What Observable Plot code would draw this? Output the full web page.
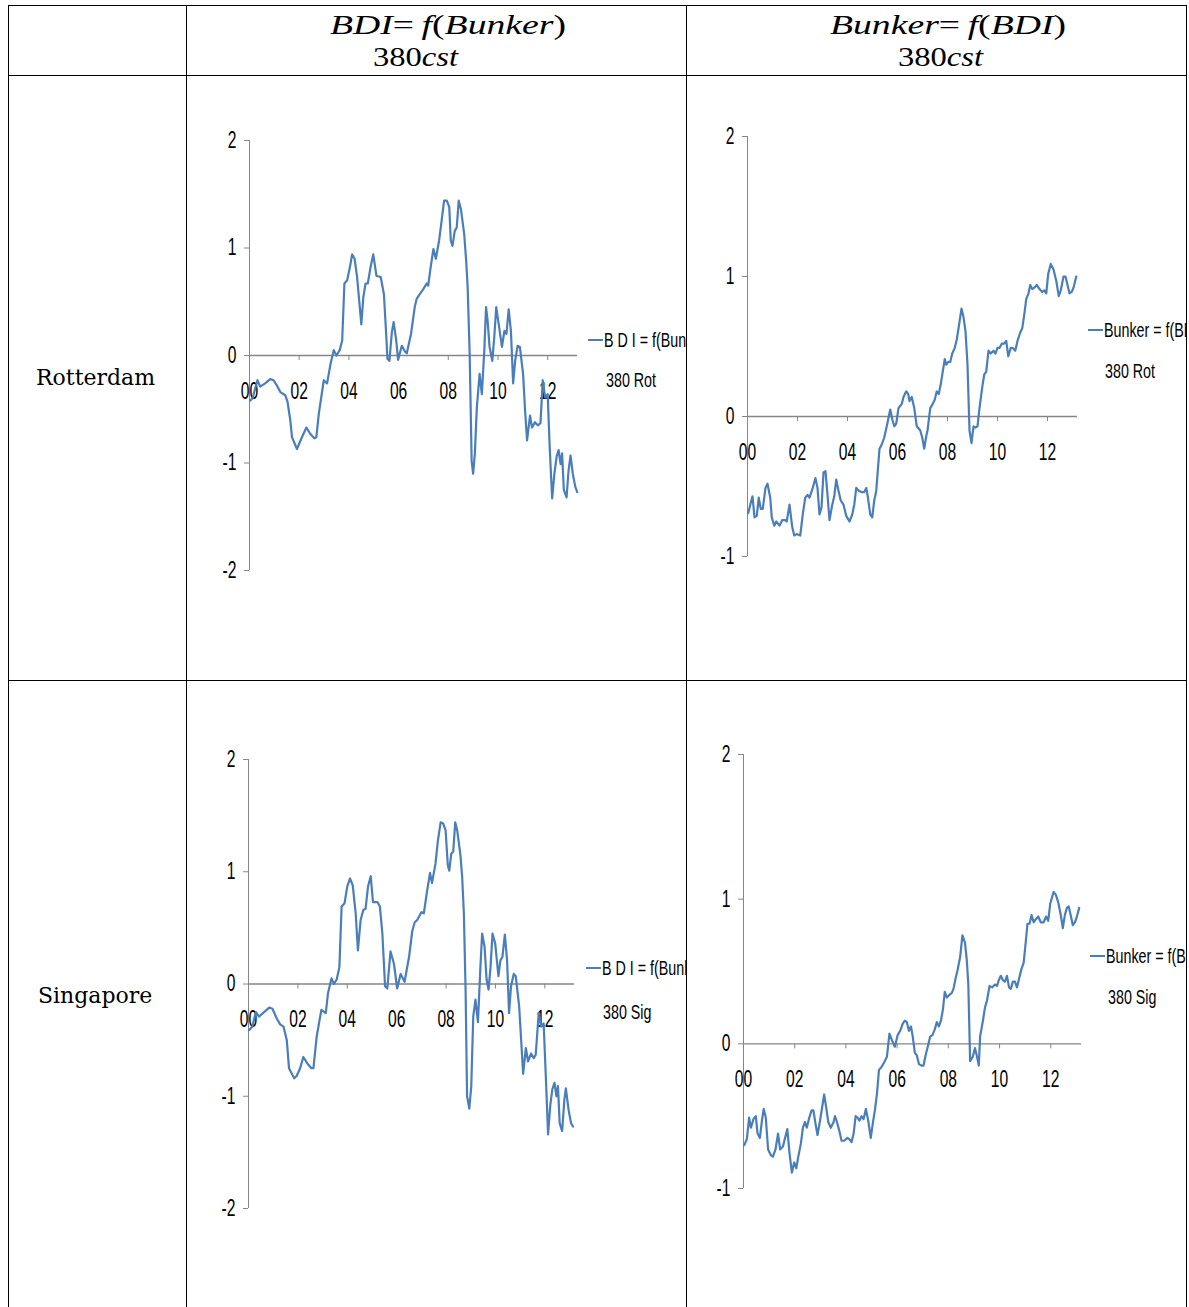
<!DOCTYPE html>
<html>
<head>
<meta charset="utf-8">
<script src="https://cdn.jsdelivr.net/npm/d3@7"></script>
<script src="https://cdn.jsdelivr.net/npm/@observablehq/plot@0.6"></script>
<style>
  html, body { margin: 0; padding: 0; background: #fff; }
  #page { position: relative; width: 1189px; height: 1307px; overflow: hidden; background: #fff; }
  .hl { position: absolute; background: #000; height: 1px; }
  .vl { position: absolute; background: #000; width: 1px; }
  .math { position: absolute; font-family: "Liberation Serif", "DejaVu Serif", serif; font-size: 28px; line-height: 28px; color: #000; white-space: nowrap; transform-origin: 0 0; }
  .math i { font-style: italic; }
  .rowlab { position: absolute; font-family: "DejaVu Serif", "Liberation Serif", serif; font-size: 22px; line-height: 22px; color: #000; white-space: nowrap; }
  .chart { position: absolute; }
  .clip { position: absolute; overflow: hidden; }
  .leg { position: absolute; font-family: "Liberation Sans", Arimo, sans-serif; font-size: 21px; line-height: 21px; color: #000; white-space: nowrap; transform: scaleX(0.68); transform-origin: 0 0; }
  .legline { position: absolute; height: 2px; background: #4A7EBB; }
</style>
</head>
<body>
<div id="page"></div>
<script>
// ---------------- data ----------------
const xTicks = [0, 2, 4, 6, 8, 10, 12];
const xTickLabels = ["00", "02", "04", "06", "08", "10", "12"];
const yTicksBdi = [-2, -1, 0, 1, 2];
const yTicksBunker = [-1, 0, 1, 2];
const columnTitles = ["BDI= f(Bunker)", "Bunker= f(BDI)"];
const rowTitles = ["Rotterdam", "Singapore"];
const seriesNames = ["B D I = f(Bunker)", "Bunker = f(BDI)"];
const portCodes = ["380 Rot", "380 Sig"];

// [years since Jan 2000, value]
const rotBdi = [[0.02,-0.42],[0.12,-0.40],[0.32,-0.23],[0.43,-0.29],[0.63,-0.26],[0.83,-0.22],[0.97,-0.23],[1.13,-0.29],[1.24,-0.34],[1.44,-0.37],[1.53,-0.43],[1.64,-0.60],[1.71,-0.76],[1.91,-0.87],[2.11,-0.76],[2.29,-0.67],[2.45,-0.73],[2.61,-0.77],[2.69,-0.76],[2.79,-0.54],[2.99,-0.23],[3.12,-0.26],[3.26,-0.08],[3.39,0.05],[3.50,0.0],[3.63,0.05],[3.73,0.14],[3.82,0.67],[3.93,0.70],[4.04,0.82],[4.13,0.94],[4.23,0.90],[4.33,0.73],[4.50,0.29],[4.58,0.54],[4.67,0.67],[4.76,0.67],[4.87,0.82],[4.98,0.94],[5.11,0.74],[5.28,0.73],[5.41,0.57],[5.50,0.20],[5.55,-0.03],[5.63,-0.05],[5.73,0.22],[5.80,0.31],[5.90,0.15],[5.98,-0.04],[6.13,0.09],[6.25,0.04],[6.33,0.02],[6.50,0.20],[6.65,0.45],[6.73,0.53],[6.82,0.56],[7.00,0.62],[7.13,0.67],[7.19,0.65],[7.29,0.82],[7.40,0.99],[7.50,0.90],[7.63,1.07],[7.73,1.25],[7.83,1.44],[7.94,1.44],[8.04,1.38],[8.10,1.07],[8.17,1.02],[8.26,1.16],[8.34,1.19],[8.42,1.44],[8.51,1.36],[8.64,1.13],[8.72,0.88],[8.78,0.63],[8.86,0.02],[8.94,-0.98],[9.00,-1.10],[9.07,-0.91],[9.15,-0.48],[9.26,-0.17],[9.35,-0.36],[9.45,0.05],[9.52,0.45],[9.58,0.33],[9.66,0.08],[9.77,-0.05],[9.85,0.17],[9.93,0.45],[10.03,0.29],[10.16,0.08],[10.26,0.23],[10.34,0.20],[10.43,0.43],[10.52,0.23],[10.61,-0.26],[10.69,-0.05],[10.79,0.09],[10.88,0.08],[11.01,-0.17],[11.09,-0.51],[11.17,-0.79],[11.29,-0.56],[11.37,-0.67],[11.49,-0.62],[11.60,-0.65],[11.71,-0.63],[11.80,-0.23],[11.90,-0.39],[12.00,-0.36],[12.08,-0.85],[12.18,-1.33],[12.27,-1.10],[12.36,-0.94],[12.44,-0.88],[12.52,-1.01],[12.58,-0.91],[12.65,-1.25],[12.76,-1.32],[12.84,-1.07],[12.92,-0.93],[13.01,-1.10],[13.11,-1.22],[13.19,-1.27]];

const sinBdi = [[0.03,-0.41],[0.15,-0.38],[0.30,-0.25],[0.43,-0.29],[0.63,-0.25],[0.84,-0.21],[0.97,-0.22],[1.15,-0.31],[1.28,-0.36],[1.42,-0.38],[1.55,-0.50],[1.64,-0.75],[1.85,-0.84],[1.95,-0.82],[2.09,-0.75],[2.22,-0.65],[2.39,-0.71],[2.55,-0.75],[2.63,-0.75],[2.76,-0.47],[2.95,-0.23],[3.13,-0.26],[3.22,-0.08],[3.36,0.05],[3.46,0.0],[3.57,0.04],[3.68,0.15],[3.77,0.69],[3.89,0.72],[4.00,0.87],[4.11,0.94],[4.22,0.88],[4.34,0.63],[4.43,0.30],[4.54,0.57],[4.65,0.66],[4.74,0.67],[4.84,0.87],[4.95,0.96],[5.04,0.73],[5.22,0.73],[5.32,0.69],[5.42,0.45],[5.53,-0.02],[5.62,-0.04],[5.75,0.29],[5.89,0.18],[6.02,-0.04],[6.16,0.09],[6.32,0.02],[6.50,0.24],[6.63,0.47],[6.73,0.55],[6.83,0.57],[7.00,0.64],[7.10,0.63],[7.24,0.84],[7.35,0.99],[7.43,0.90],[7.57,1.07],[7.67,1.28],[7.78,1.44],[7.88,1.43],[7.98,1.37],[8.07,1.06],[8.13,1.01],[8.21,1.16],[8.29,1.18],[8.37,1.44],[8.45,1.37],[8.58,1.15],[8.65,0.96],[8.72,0.63],[8.79,-0.05],[8.85,-1.00],[8.94,-1.11],[9.02,-0.91],[9.10,-0.29],[9.19,-0.14],[9.29,-0.34],[9.39,0.15],[9.46,0.45],[9.56,0.33],[9.64,0.04],[9.72,-0.05],[9.80,0.15],[9.88,0.45],[9.99,0.36],[10.12,0.07],[10.20,0.21],[10.28,0.24],[10.38,0.44],[10.47,0.21],[10.55,-0.26],[10.63,-0.02],[10.74,0.09],[10.82,0.07],[10.96,-0.20],[11.04,-0.50],[11.12,-0.80],[11.23,-0.57],[11.32,-0.69],[11.44,-0.62],[11.55,-0.66],[11.63,-0.63],[11.75,-0.26],[11.85,-0.38],[11.95,-0.35],[12.04,-0.83],[12.13,-1.34],[12.22,-1.08],[12.30,-0.94],[12.39,-0.88],[12.47,-1.00],[12.53,-0.91],[12.60,-1.24],[12.70,-1.31],[12.79,-1.03],[12.85,-0.93],[12.96,-1.12],[13.06,-1.24],[13.14,-1.27]];

const rotBunker = [[0.03,-0.69],[0.11,-0.63],[0.20,-0.57],[0.28,-0.72],[0.37,-0.71],[0.45,-0.58],[0.53,-0.66],[0.61,-0.66],[0.72,-0.51],[0.80,-0.48],[0.91,-0.58],[0.97,-0.72],[1.07,-0.78],[1.15,-0.75],[1.28,-0.78],[1.39,-0.74],[1.51,-0.74],[1.57,-0.75],[1.68,-0.63],[1.79,-0.79],[1.87,-0.85],[1.97,-0.84],[2.11,-0.85],[2.21,-0.70],[2.31,-0.58],[2.40,-0.56],[2.48,-0.58],[2.61,-0.51],[2.72,-0.44],[2.80,-0.51],[2.88,-0.70],[2.96,-0.65],[3.04,-0.40],[3.12,-0.39],[3.20,-0.56],[3.28,-0.74],[3.39,-0.63],[3.47,-0.57],[3.55,-0.45],[3.64,-0.53],[3.73,-0.60],[3.84,-0.63],[3.95,-0.71],[4.08,-0.75],[4.19,-0.70],[4.27,-0.63],[4.35,-0.51],[4.45,-0.53],[4.56,-0.54],[4.67,-0.54],[4.75,-0.51],[4.81,-0.57],[4.91,-0.70],[4.99,-0.72],[5.07,-0.60],[5.15,-0.53],[5.28,-0.23],[5.37,-0.20],[5.47,-0.15],[5.57,-0.07],[5.71,0.05],[5.79,-0.02],[5.87,-0.07],[5.95,-0.05],[6.04,0.06],[6.17,0.09],[6.24,0.14],[6.35,0.18],[6.43,0.16],[6.48,0.11],[6.57,0.14],[6.67,0.06],[6.77,-0.07],[6.91,-0.10],[6.99,-0.15],[7.07,-0.23],[7.15,-0.14],[7.20,-0.10],[7.31,0.06],[7.41,0.09],[7.49,0.12],[7.57,0.18],[7.65,0.16],[7.73,0.23],[7.81,0.32],[7.89,0.41],[7.95,0.37],[8.03,0.39],[8.11,0.39],[8.19,0.45],[8.29,0.49],[8.37,0.55],[8.45,0.64],[8.56,0.77],[8.64,0.71],[8.72,0.61],[8.80,0.37],[8.88,-0.10],[8.96,-0.19],[9.04,-0.07],[9.12,-0.08],[9.20,-0.07],[9.28,0.06],[9.39,0.21],[9.47,0.30],[9.55,0.32],[9.64,0.47],[9.73,0.45],[9.84,0.47],[9.92,0.45],[10.00,0.49],[10.08,0.49],[10.17,0.52],[10.27,0.52],[10.35,0.54],[10.43,0.43],[10.53,0.49],[10.61,0.49],[10.71,0.47],[10.80,0.54],[10.91,0.60],[10.99,0.63],[11.08,0.74],[11.15,0.84],[11.24,0.88],[11.31,0.94],[11.39,0.91],[11.47,0.92],[11.57,0.94],[11.68,0.91],[11.79,0.89],[11.87,0.90],[11.95,0.88],[12.03,1.02],[12.13,1.09],[12.24,1.05],[12.35,0.97],[12.45,0.86],[12.53,0.90],[12.64,1.00],[12.72,1.00],[12.80,0.94],[12.88,0.88],[12.97,0.89],[13.04,0.92],[13.15,1.00]];

const sinBunker = [[0.03,-0.70],[0.13,-0.66],[0.22,-0.51],[0.29,-0.58],[0.39,-0.52],[0.48,-0.50],[0.55,-0.62],[0.64,-0.65],[0.72,-0.53],[0.79,-0.45],[0.87,-0.51],[0.96,-0.73],[1.07,-0.77],[1.15,-0.78],[1.25,-0.73],[1.35,-0.62],[1.43,-0.73],[1.54,-0.71],[1.61,-0.66],[1.71,-0.59],[1.80,-0.76],[1.89,-0.89],[1.98,-0.82],[2.06,-0.86],[2.14,-0.78],[2.24,-0.69],[2.32,-0.58],[2.40,-0.54],[2.47,-0.58],[2.57,-0.51],[2.66,-0.46],[2.73,-0.46],[2.81,-0.55],[2.89,-0.63],[2.99,-0.53],[3.07,-0.44],[3.15,-0.35],[3.23,-0.44],[3.31,-0.54],[3.41,-0.58],[3.52,-0.54],[3.57,-0.50],[3.65,-0.54],[3.74,-0.60],[3.83,-0.67],[3.93,-0.67],[4.06,-0.65],[4.14,-0.66],[4.22,-0.68],[4.30,-0.62],[4.38,-0.50],[4.45,-0.51],[4.53,-0.53],[4.61,-0.50],[4.69,-0.52],[4.78,-0.45],[4.87,-0.53],[4.97,-0.65],[5.05,-0.55],[5.13,-0.46],[5.21,-0.35],[5.29,-0.18],[5.39,-0.16],[5.49,-0.13],[5.60,-0.09],[5.70,0.07],[5.81,0.02],[5.91,-0.02],[6.02,0.06],[6.12,0.09],[6.22,0.14],[6.30,0.16],[6.38,0.15],[6.46,0.09],[6.54,0.12],[6.61,0.05],[6.69,-0.06],[6.77,-0.08],[6.85,-0.14],[6.95,-0.15],[7.03,-0.15],[7.11,-0.08],[7.21,-0.01],[7.29,0.05],[7.38,0.06],[7.47,0.10],[7.55,0.15],[7.63,0.12],[7.71,0.16],[7.79,0.24],[7.86,0.36],[7.94,0.32],[8.05,0.34],[8.13,0.35],[8.20,0.38],[8.28,0.45],[8.36,0.51],[8.46,0.60],[8.55,0.75],[8.65,0.70],[8.72,0.58],[8.78,0.41],[8.85,-0.12],[8.95,-0.09],[9.04,-0.03],[9.11,-0.08],[9.19,-0.15],[9.24,0.05],[9.35,0.16],[9.43,0.25],[9.51,0.30],[9.61,0.40],[9.71,0.39],[9.82,0.41],[9.90,0.40],[9.97,0.44],[10.05,0.47],[10.13,0.44],[10.21,0.43],[10.29,0.47],[10.37,0.39],[10.44,0.38],[10.52,0.43],[10.60,0.43],[10.68,0.39],[10.76,0.45],[10.86,0.52],[10.94,0.56],[11.02,0.70],[11.09,0.83],[11.17,0.83],[11.25,0.89],[11.33,0.84],[11.41,0.86],[11.51,0.88],[11.61,0.84],[11.72,0.84],[11.82,0.88],[11.90,0.85],[11.98,0.97],[12.11,1.05],[12.20,1.03],[12.29,0.98],[12.40,0.88],[12.47,0.80],[12.55,0.89],[12.63,0.94],[12.70,0.95],[12.79,0.88],[12.86,0.82],[12.94,0.84],[13.02,0.88],[13.11,0.94]];

// ---------------- layout ----------------
const page = document.getElementById("page");
const BLUE = "#4A7EBB";
const GRAY = "#868686";
const SANS = '"Liberation Sans", Arimo, sans-serif';
const NARROW_SCALE = 0.68;

function el(cls, css, html) {
  const d = document.createElement("div");
  d.className = cls;
  Object.assign(d.style, css);
  if (html !== undefined) d.innerHTML = html;
  return d;
}

// table grid
const lines = [
  el("hl", {left: "8px", top: "5px", width: "1179px"}),
  el("hl", {left: "8px", top: "75px", width: "1179px"}),
  el("hl", {left: "8px", top: "680px", width: "1179px"}),
  el("vl", {left: "8px", top: "5px", height: "1302px"}),
  el("vl", {left: "186px", top: "5px", height: "1302px"}),
  el("vl", {left: "686px", top: "5px", height: "1302px"}),
  el("vl", {left: "1186px", top: "5px", height: "1302px"})
];

// headers
function mathTitle(s) {
  const m = s.match(/^(\w+)=\s*f\((\w+)\)$/);
  return `<i>${m[1]}</i>=&thinsp;<i>f</i>(<i>${m[2]}</i>)`;
}
const headers = [
  {html: mathTitle(columnTitles[0]), left: 330, top: 11, w: 236},
  {html: "380<i>cst</i>", left: 373, top: 43, w: 85},
  {html: mathTitle(columnTitles[1]), left: 830, top: 11, w: 236},
  {html: "380<i>cst</i>", left: 898, top: 43, w: 85}
];

rowTitles.forEach((t, i) => {
  page.appendChild(el("rowlab", {left: i === 0 ? "36px" : "38px", top: (i === 0 ? 367 : 985) + "px"}, t));
});

// charts
const configs = [
  {data: rotBdi, yTicks: yTicksBdi, left: 189, top: 100, width: 421, height: 510, ml: 60, mr: 33, mb: 40,
   name: seriesNames[0], port: portCodes[0], legX: 588, legY: 340, legX2: 606, legY2: 380, clipR: 686},
  {data: rotBunker, yTicks: yTicksBunker, left: 689, top: 96, width: 418, height: 500, ml: 58, mr: 30, mb: 40,
   name: seriesNames[1], port: portCodes[0], legX: 1088, legY: 330, legX2: 1105, legY2: 371, clipR: 1186},
  {data: sinBdi, yTicks: yTicksBdi, left: 188, top: 719, width: 416, height: 529, ml: 60, mr: 30, mb: 40,
   name: seriesNames[0], port: portCodes[1], legX: 586, legY: 968, legX2: 603, legY2: 1012, clipR: 686},
  {data: sinBunker, yTicks: yTicksBunker, left: 688, top: 714, width: 423, height: 514, ml: 55, mr: 30, mb: 40,
   name: seriesNames[1], port: portCodes[1], legX: 1090, legY: 956, legX2: 1108, legY2: 997, clipR: 1186}
];

configs.forEach(c => {
  const yMin = d3.min(c.yTicks), yMax = d3.max(c.yTicks);
  const svg = Plot.plot({
    width: c.width,
    height: c.height,
    marginLeft: c.ml,
    marginRight: c.mr,
    marginTop: 40,
    marginBottom: c.mb,
    x: {domain: [0, 13.2], axis: null},
    y: {domain: [yMin, yMax]},
    style: {fontFamily: SANS, fontSize: "23px", color: "#000", background: "transparent", overflow: "visible"},
    marks: [
      Plot.ruleX([0], {stroke: GRAY, strokeWidth: 1}),
      Plot.ruleY([0], {stroke: GRAY, strokeWidth: 1.3}),
      Plot.axisY({ticks: c.yTicks, tickSize: 5, tickPadding: 8, stroke: GRAY, fill: "#000", label: null, tickFormat: d => String(d), fontSize: 23}),
      Plot.ruleX(xTicks, {x: d => d, y1: () => 0, y2: () => 0, insetBottom: -5, stroke: GRAY}),
      Plot.text(xTicks, {x: d => d, y: () => 0, text: (d, i) => xTickLabels[i], dy: 36, fontSize: 23, fill: "#000"}),
      Plot.line(c.data, {x: d => d[0], y: d => d[1], stroke: BLUE, strokeWidth: 2.2})
    ]
  });
  // condensed look of the original chart font
  svg.querySelectorAll("text").forEach(t => {
    const tr = t.getAttribute("transform") || "";
    t.setAttribute("transform", `${tr} scale(${NARROW_SCALE},1)`);
  });
  const wrap = el("chart", {left: c.left + "px", top: c.top + "px"});
  wrap.appendChild(svg);
  page.appendChild(wrap);

  const clip = el("clip", {left: (c.legX) + "px", top: (c.legY - 20) + "px", width: (c.clipR - c.legX) + "px", height: "80px"});
  clip.appendChild(el("legline", {left: "0px", top: "19px", width: "15px"}));
  clip.appendChild(el("leg", {left: "16px", top: "9px"}, c.name));
  clip.appendChild(el("leg", {left: (c.legX2 - c.legX) + "px", top: (c.legY2 - c.legY + 9) + "px"}, c.port));
  page.appendChild(clip);
});

headers.forEach(h => {
  const d = el("math", {left: h.left + "px", top: h.top + "px"}, h.html);
  page.appendChild(d);
  const w = d.getBoundingClientRect().width;
  if (w > 0) d.style.transform = `scaleX(${h.w / w})`;
});

lines.forEach(l => page.appendChild(l));
</script>
</body>
</html>
